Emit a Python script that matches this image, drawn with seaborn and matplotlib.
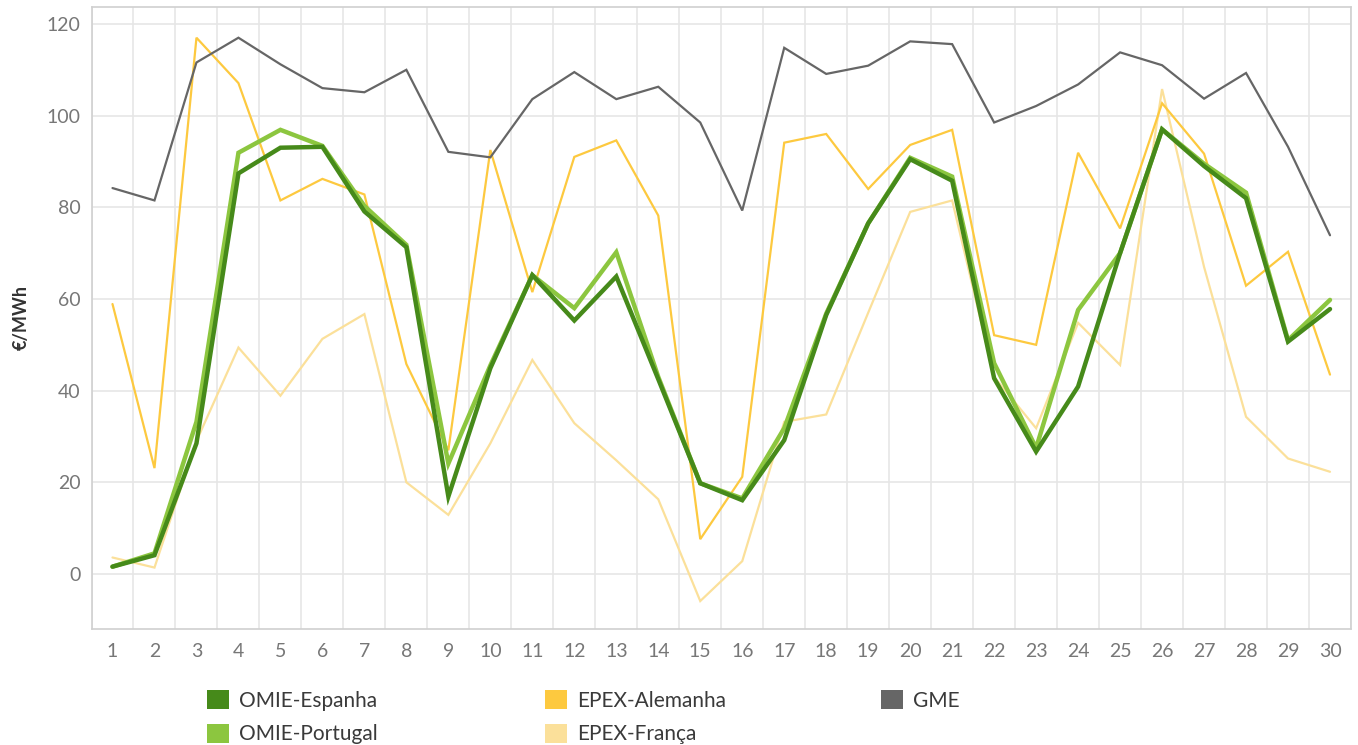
import matplotlib
matplotlib.use("Agg")
import matplotlib.pyplot as plt
import seaborn as sns
import numpy as np
import pandas as pd
from matplotlib.patches import Patch

days = list(range(1, 31))

omie_espanha = [1.6, 4.1, 28.5, 87.4, 93.0, 93.2, 79.1, 71.3, 16.9, 44.9,
                65.2, 55.3, 64.9, 42.5, 19.8, 16.1, 29.2, 56.5, 76.5, 90.5,
                85.8, 42.7, 26.7, 40.9, 70.0, 97.0, 89.0, 82.0, 50.7, 57.8]
omie_portugal = [1.6, 4.5, 33.2, 91.9, 96.9, 93.4, 80.3, 71.8, 24.1, 45.5,
                 65.2, 58.0, 70.2, 43.0, 19.8, 16.5, 31.8, 56.8, 76.5, 90.8,
                 86.7, 46.0, 27.5, 57.6, 70.0, 97.0, 89.5, 83.2, 51.0, 59.8]
epex_alemanha = [58.9, 23.1, 117.0, 107.1, 81.5, 86.2, 82.8, 45.8, 27.0, 92.5,
                 61.5, 91.0, 94.6, 78.2, 7.6, 21.2, 94.1, 96.0, 84.0, 93.6,
                 96.9, 52.1, 50.0, 91.9, 75.4, 102.7, 91.7, 62.9, 70.3, 43.5]
epex_franca = [3.6, 1.4, 29.0, 49.4, 38.9, 51.3, 56.7, 20.0, 12.9, 28.5,
               46.7, 32.9, 24.8, 16.3, -5.9, 2.8, 33.2, 34.8, 57.0, 79.0,
               81.5, 43.0, 31.8, 54.8, 45.6, 105.8, 67.0, 34.3, 25.2, 22.3]
gme = [84.2, 81.5, 111.6, 117.0, 111.2, 106.0, 105.1, 110.0, 92.1, 90.9,
       103.6, 109.5, 103.6, 106.3, 98.5, 79.3, 114.8, 109.1, 110.9, 116.2,
       115.6, 98.5, 102.1, 106.8, 113.8, 111.0, 103.7, 109.3, 93.2, 73.9]

series_names = ["OMIE-Espanha", "OMIE-Portugal", "EPEX-Alemanha", "EPEX-França", "GME"]
series_values = [omie_espanha, omie_portugal, epex_alemanha, epex_franca, gme]
y_ticks = [0, 20, 40, 60, 80, 100, 120]

colors = {
    "OMIE-Espanha": "#468A1A",
    "OMIE-Portugal": "#8CC63F",
    "EPEX-Alemanha": "#FDC93F",
    "EPEX-França": "#FBE09A",
    "GME": "#666666",
}
widths = {
    "OMIE-Espanha": 3.2,
    "OMIE-Portugal": 3.2,
    "EPEX-Alemanha": 1.6,
    "EPEX-França": 1.6,
    "GME": 1.6,
}

sns.set_theme(style="white")
plt.rcParams['font.family'] = ['Lato', 'DejaVu Sans']

fig = plt.figure(figsize=(13.58, 7.45), dpi=100)
ax = fig.add_axes([91.5 / 1358, 1 - 629 / 745, (1351 - 91.5) / 1358, (629 - 7) / 745])

draw_order = ["EPEX-França", "EPEX-Alemanha", "GME", "OMIE-Portugal", "OMIE-Espanha"]
data = {n: v for n, v in zip(series_names, series_values)}
for i, name in enumerate(draw_order):
    df = pd.DataFrame({"day": days, "val": data[name]})
    sns.lineplot(data=df, x="day", y="val", ax=ax, color=colors[name],
                 linewidth=widths[name], zorder=3 + i, solid_joinstyle="miter")

ax.set_xlim(0.5, 30.5)
ax.set_ylim(-12, 123.7)
ax.set_xticks(days)
ax.set_xticklabels([str(d) for d in days])
ax.set_xticks([d + 0.5 for d in range(0, 31)], minor=True)
ax.set_yticks(y_ticks)
ax.set_yticklabels([str(t) for t in y_ticks])

ax.grid(False)
ax.yaxis.grid(True, color="#e6e6e6", linewidth=1.2, zorder=0)
ax.xaxis.grid(True, which="minor", color="#e6e6e6", linewidth=1.2, zorder=0)
for s in ax.spines.values():
    s.set_color("#d0d0d0")
    s.set_linewidth(1.2)

ax.tick_params(axis="x", which="major", length=0, pad=10, labelsize=14, labelcolor="#777777")
ax.tick_params(axis="x", which="minor", length=7, width=1, color="#e0e0e0", direction="out")
ax.tick_params(axis="y", which="major", length=0, pad=8, labelsize=14, labelcolor="#777777")

ax.set_xlabel("")
ax.set_ylabel("€/MWh", fontsize=13, color="#333333", fontweight="bold", labelpad=12)

# legend: three columns placed like the reference
columns = [(["OMIE-Espanha", "OMIE-Portugal"], 207),
           (["EPEX-Alemanha", "EPEX-França"], 545),
           (["GME"], 881)]
for names, xpix in columns:
    handles = [Patch(facecolor=colors[n], edgecolor="none") for n in names]
    fig.legend(handles, names, loc="upper left", bbox_to_anchor=(xpix / 1358, 1 - 690 / 745),
               ncol=1, frameon=False, fontsize=15, handlelength=1.05, handleheight=1.05,
               handletextpad=0.5, labelspacing=0.62, labelcolor="#3a3a3a",
               borderpad=0, borderaxespad=0)

fig.savefig("out.png", dpi=100)
